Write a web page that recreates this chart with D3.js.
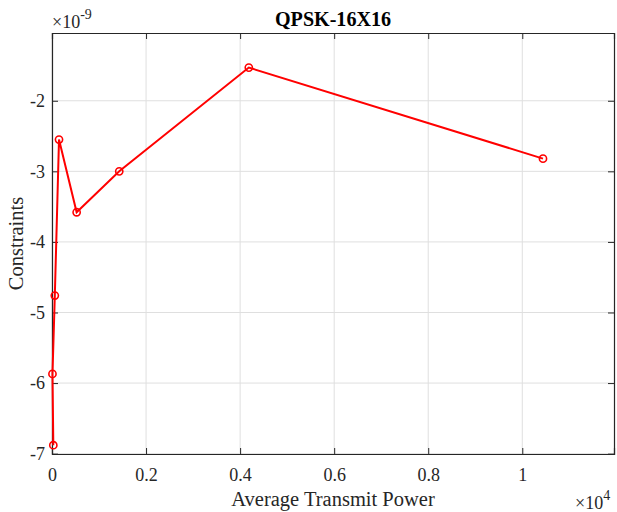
<!DOCTYPE html>
<html>
<head>
<meta charset="utf-8">
<script src="https://cdn.jsdelivr.net/npm/d3@7"></script>
<style>
  body { margin: 0; background: #fff; }
  svg text { font-family: "Liberation Serif", "Times New Roman", serif; fill: #262626; }
</style>
</head>
<body>
<div id="chart"></div>
<script>
// Average transmit power (x 1e4) and constraint values (x 1e-9)
var powerVals = [0.0028, 0.0010, 0.0060, 0.0149, 0.0524, 0.143, 0.4185, 1.044];
var constraintVals = [-6.88, -5.87, -4.76, -2.55, -3.58, -3.00, -1.53, -2.82];
var xTicks = [0, 0.2, 0.4, 0.6, 0.8, 1];
var yTicks = [-7, -6, -5, -4, -3, -2];

var width = 617,
    height = 512,
    margin = { top: 33, right: 3, bottom: 58, left: 52 };

var plotW = width - margin.left - margin.right,
    plotH = height - margin.top - margin.bottom;

var x = d3.scaleLinear().domain([0, 1.195]).range([0, plotW]),
    y = d3.scaleLinear().domain([-7.005, -1.04]).range([plotH, 0]);

var svg = d3.select("#chart").append("svg")
    .attr("width", width)
    .attr("height", height);

var g = svg.append("g")
    .attr("transform", "translate(" + margin.left + "," + margin.top + ")");

// grid
g.selectAll(".gx").data(xTicks).enter().append("line")
    .attr("x1", function (d) { return x(d); }).attr("x2", function (d) { return x(d); })
    .attr("y1", 0).attr("y2", plotH)
    .style("stroke", "#dfdfdf").style("stroke-width", 1);
g.selectAll(".gy").data(yTicks).enter().append("line")
    .attr("y1", function (d) { return y(d); }).attr("y2", function (d) { return y(d); })
    .attr("x1", 0).attr("x2", plotW)
    .style("stroke", "#dfdfdf").style("stroke-width", 1);

// axes (ticks inside, box on)
var axisColor = "#262626";
var axBottom = g.append("g").attr("transform", "translate(0," + plotH + ")")
    .call(d3.axisBottom(x).tickValues(xTicks).tickSize(-6).tickPadding(14).tickFormat(d3.format("")));
var axTop = g.append("g")
    .call(d3.axisTop(x).tickValues(xTicks).tickSize(-6).tickFormat(""));
var axLeft = g.append("g")
    .call(d3.axisLeft(y).tickValues(yTicks).tickSize(-6).tickPadding(7).tickFormat(function (d) { return String(d); }));
var axRight = g.append("g").attr("transform", "translate(" + plotW + ",0)")
    .call(d3.axisRight(y).tickValues(yTicks).tickSize(-6).tickFormat(""));

[axBottom, axTop, axLeft, axRight].forEach(function (a) {
    a.select(".domain").style("stroke", axisColor).style("stroke-width", 1.2);
    a.selectAll(".tick line").style("stroke", axisColor);
    a.selectAll("text").style("font-size", "18px").style("font-family", "Liberation Serif, serif").style("fill", axisColor);
});

// line + markers
var pts = powerVals.map(function (v, i) { return [v, constraintVals[i]]; });
g.append("path")
    .datum(pts)
    .attr("d", d3.line().x(function (d) { return x(d[0]); }).y(function (d) { return y(d[1]); }))
    .style("fill", "none").style("stroke", "#ff0000").style("stroke-width", 2);
g.selectAll(".pt").data(pts).enter().append("circle")
    .attr("cx", function (d) { return x(d[0]); })
    .attr("cy", function (d) { return y(d[1]); })
    .attr("r", 3.6)
    .style("fill", "none").style("stroke", "#ff0000").style("stroke-width", 1.6);

// title and labels
svg.append("text").attr("x", margin.left + plotW / 2).attr("y", 26)
    .attr("text-anchor", "middle").style("font-size", "21px").style("font-weight", "bold")
    .attr("textLength", 116).attr("lengthAdjust", "spacingAndGlyphs")
    .style("fill", "#000").text("QPSK-16X16");
svg.append("text").attr("x", margin.left + plotW / 2).attr("y", 506)
    .attr("text-anchor", "middle").style("font-size", "20.5px").text("Average Transmit Power");
svg.append("text").attr("transform", "translate(23," + (margin.top + plotH / 2) + ") rotate(-90)")
    .attr("text-anchor", "middle").style("font-size", "20.5px").text("Constraints");

// exponent labels
var ey = svg.append("text").attr("x", 52).attr("y", 28).style("font-size", "18px");
ey.append("tspan").text("\u00d710");
ey.append("tspan").attr("dy", -9).style("font-size", "14px").text("-9");
var ex = svg.append("text").attr("x", 575).attr("y", 509).style("font-size", "18px");
ex.append("tspan").text("\u00d710");
ex.append("tspan").attr("dy", -9).style("font-size", "14px").text("4");
</script>
</body>
</html>
